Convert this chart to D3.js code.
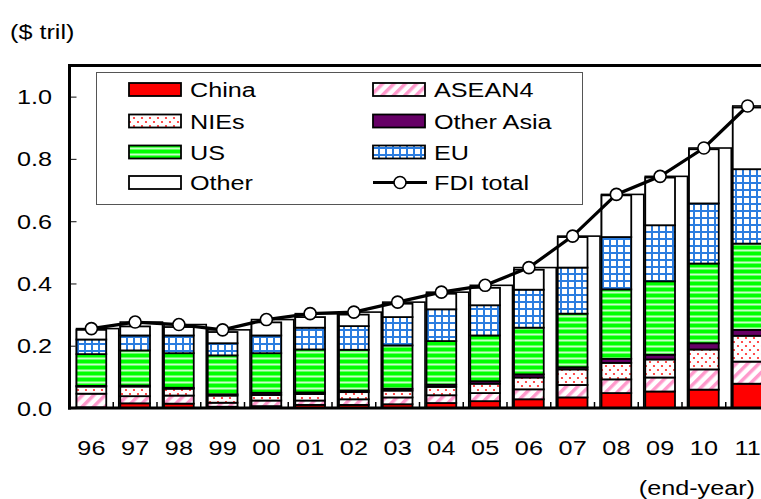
<!DOCTYPE html>
<html>
<head>
<meta charset="utf-8">
<script src="https://cdn.jsdelivr.net/npm/d3@7"></script>
<style>
  html, body { margin: 0; padding: 0; background: #fff; }
  svg { display: block; }
  text { font-family: "Liberation Sans", Arial, sans-serif; fill: #000; }
</style>
</head>
<body>
<div id="chart"></div>
<script>
// Japan outward FDI stock by destination, $ trillion, end of year
const years = ["96","97","98","99","00","01","02","03","04","05","06","07","08","09","10","11"];
const china     = [0.002,0.015,0.014,0.004,0.006,0.010,0.010,0.012,0.016,0.022,0.028,0.034,0.048,0.053,0.059,0.078];
const asean4    = [0.044,0.023,0.026,0.013,0.018,0.014,0.018,0.022,0.025,0.026,0.032,0.040,0.044,0.045,0.065,0.071];
const nies      = [0.023,0.031,0.022,0.023,0.018,0.021,0.023,0.022,0.027,0.030,0.038,0.050,0.053,0.058,0.064,0.083];
const otherAsia = [0.002,0.003,0.003,0.004,0.007,0.005,0.005,0.006,0.007,0.008,0.010,0.007,0.013,0.015,0.020,0.019];
const us        = [0.102,0.113,0.111,0.125,0.127,0.138,0.131,0.139,0.140,0.147,0.150,0.172,0.223,0.236,0.256,0.277];
const eu        = [0.047,0.048,0.057,0.039,0.057,0.070,0.076,0.091,0.102,0.097,0.122,0.148,0.168,0.180,0.193,0.239];
const other     = [0.031,0.029,0.027,0.036,0.042,0.034,0.037,0.043,0.050,0.056,0.064,0.098,0.134,0.153,0.174,0.198];
const fdiTotal  = [0.255,0.276,0.268,0.251,0.284,0.303,0.308,0.340,0.372,0.394,0.451,0.552,0.686,0.744,0.835,0.970];
const yTicks    = [0, 0.2, 0.4, 0.6, 0.8, 1.0];

const W = 761, H = 499;
const plot = { left: 69.5, right: 769.5, top: 65.5, bottom: 408 };
const sx = 1.2; // wide lettering

const svg = d3.select("#chart").append("svg").attr("width", W).attr("height", H);
const defs = svg.append("defs");

// fill patterns
const pNies = defs.append("pattern").attr("id", "p-nies").attr("patternUnits", "userSpaceOnUse")
  .attr("width", 8).attr("height", 8);
pNies.append("rect").attr("width", 8).attr("height", 8).attr("fill", "#fff");
pNies.append("circle").attr("cx", 2).attr("cy", 2).attr("r", 1.1).attr("fill", "#ff2020");
pNies.append("circle").attr("cx", 6).attr("cy", 6).attr("r", 1.1).attr("fill", "#ff2020");

const pUs = defs.append("pattern").attr("id", "p-us").attr("patternUnits", "userSpaceOnUse")
  .attr("width", 6).attr("height", 6);
pUs.append("rect").attr("width", 6).attr("height", 6).attr("fill", "#00ff00");
pUs.append("rect").attr("y", 3.5).attr("width", 6).attr("height", 2).attr("fill", "#c8ffc8");

const pAsean = defs.append("pattern").attr("id", "p-asean").attr("patternUnits", "userSpaceOnUse")
  .attr("width", 8).attr("height", 8).attr("patternTransform", "rotate(45)");
pAsean.append("rect").attr("width", 8).attr("height", 8).attr("fill", "#fff");
pAsean.append("rect").attr("width", 3.5).attr("height", 8).attr("fill", "#ff99cc");

const pEu = defs.append("pattern").attr("id", "p-eu").attr("patternUnits", "userSpaceOnUse")
  .attr("width", 7).attr("height", 7);
pEu.append("rect").attr("width", 7).attr("height", 7).attr("fill", "#2b7de0");
pEu.append("rect").attr("x", 2).attr("y", 2).attr("width", 5).attr("height", 5).attr("fill", "#fff");

const series = [
  { key: "China",       values: china,     fill: "#ff0000" },
  { key: "ASEAN4",      values: asean4,    fill: "url(#p-asean)" },
  { key: "NIEs",        values: nies,      fill: "url(#p-nies)" },
  { key: "Other Asia",  values: otherAsia, fill: "#660066" },
  { key: "US",          values: us,        fill: "url(#p-us)" },
  { key: "EU",          values: eu,        fill: "url(#p-eu)" },
  { key: "Other",       values: other,     fill: "#ffffff" }
];

const rows = years.map((y, i) => {
  const r = { year: y };
  series.forEach(s => { r[s.key] = s.values[i]; });
  return r;
});
const stacked = d3.stack().keys(series.map(s => s.key))(rows);

const x = d3.scaleBand().domain(years).range([plot.left, plot.right]).paddingInner(0).paddingOuter(0);
const y = d3.scaleLinear().domain([0, 1.1]).range([plot.bottom, plot.top]);
const step = x.step();
const bw = step * 0.68;
const xc = d => x(d) + step / 2;

// text helper with horizontal stretch
function label(g, tx, ty, str, anchor) {
  return g.append("text")
    .attr("transform", `translate(${tx},${ty}) scale(${sx},1)`)
    .attr("text-anchor", anchor || "start")
    .attr("font-size", 21)
    .text(str);
}

const chart = svg.append("g");

// total columns behind the stacks
chart.append("g").selectAll("rect").data(years).join("rect")
  .attr("x", d => xc(d) - bw / 2)
  .attr("width", step - 1.5)
  .attr("y", (d, i) => y(fdiTotal[i]))
  .attr("height", (d, i) => y(0) - y(fdiTotal[i]))
  .attr("fill", "#fff").attr("stroke", "#000").attr("stroke-width", 1.6);

// stacked segments
chart.append("g").selectAll("g").data(stacked).join("g")
  .attr("fill", (d, i) => series[i].fill)
  .selectAll("rect").data(d => d).join("rect")
  .attr("x", d => xc(d.data.year) - bw / 2)
  .attr("width", bw)
  .attr("y", d => y(d[1]))
  .attr("height", d => y(d[0]) - y(d[1]))
  .attr("stroke", "#000").attr("stroke-width", 1.8);

// category boundary ticks on the x axis
chart.append("g").selectAll("line").data(years).join("line")
  .attr("x1", d => x(d) + step).attr("x2", d => x(d) + step)
  .attr("y1", plot.bottom).attr("y2", plot.bottom - 6)
  .attr("stroke", "#000").attr("stroke-width", 1.5);

// FDI total line
const line = d3.line().x((d, i) => xc(years[i])).y(d => y(d));
chart.append("path").datum(fdiTotal).attr("d", line)
  .attr("fill", "none").attr("stroke", "#000").attr("stroke-width", 3.2);
chart.append("g").selectAll("circle").data(fdiTotal).join("circle")
  .attr("cx", (d, i) => xc(years[i])).attr("cy", d => y(d)).attr("r", 6)
  .attr("fill", "#fff").attr("stroke", "#000").attr("stroke-width", 1.6);

// y axis
const yAxis = d3.axisLeft(y).tickValues(yTicks).tickSize(-7).tickFormat("");
const yg = svg.append("g").attr("transform", `translate(${plot.left},0)`).call(yAxis);
yg.select(".domain").remove();
yg.selectAll(".tick line").attr("stroke", "#333").attr("stroke-width", 1.2);
const yLab = svg.append("g");
yTicks.forEach(v => label(yLab, 52, y(v) + 7.5, d3.format(".1f")(v), "end"));

// x axis labels
const xLab = svg.append("g");
years.forEach(d => label(xLab, xc(d), 455, d, "middle"));

// frame
svg.append("line").attr("x1", plot.left).attr("x2", W + 10).attr("y1", plot.top).attr("y2", plot.top)
  .attr("stroke", "#000").attr("stroke-width", 3);
svg.append("line").attr("x1", plot.left).attr("x2", plot.left).attr("y1", plot.top - 1.5).attr("y2", plot.bottom + 1.5)
  .attr("stroke", "#000").attr("stroke-width", 3);
svg.append("line").attr("x1", plot.left - 1.5).attr("x2", W + 10).attr("y1", plot.bottom).attr("y2", plot.bottom)
  .attr("stroke", "#000").attr("stroke-width", 3);

// titles
label(svg, 10, 39, "($ tril)", "start");
label(svg, 755, 495, "(end-year)", "end");

// legend
const lg = svg.append("g");
lg.append("rect").attr("x", 96.5).attr("y", 72.5).attr("width", 486).attr("height", 132)
  .attr("fill", "#fff").attr("stroke", "#555").attr("stroke-width", 1);
const legendItems = [
  { key: "China", col: 0, row: 0 },
  { key: "NIEs", col: 0, row: 1 },
  { key: "US", col: 0, row: 2 },
  { key: "Other", col: 0, row: 3 },
  { key: "ASEAN4", col: 1, row: 0 },
  { key: "Other Asia", col: 1, row: 1 },
  { key: "EU", col: 1, row: 2 },
  { key: "FDI total", col: 1, row: 3 }
];
const colX = [129, 373];
const rowY = [89.5, 121, 152, 182.5];
legendItems.forEach(it => {
  const x0 = colX[it.col], cy = rowY[it.row];
  if (it.key === "FDI total") {
    lg.append("line").attr("x1", x0).attr("x2", x0 + 54).attr("y1", cy).attr("y2", cy)
      .attr("stroke", "#000").attr("stroke-width", 3.2);
    lg.append("circle").attr("cx", x0 + 27).attr("cy", cy).attr("r", 6)
      .attr("fill", "#fff").attr("stroke", "#000").attr("stroke-width", 1.6);
  } else {
    const s = series.find(d => d.key === it.key);
    lg.append("rect").attr("x", x0).attr("y", cy - 6.5).attr("width", 52).attr("height", 13)
      .attr("fill", s.fill).attr("stroke", "#000").attr("stroke-width", 1.8);
  }
  label(lg, x0 + 61, cy + 7.5, it.key, "start");
});
</script>
</body>
</html>
